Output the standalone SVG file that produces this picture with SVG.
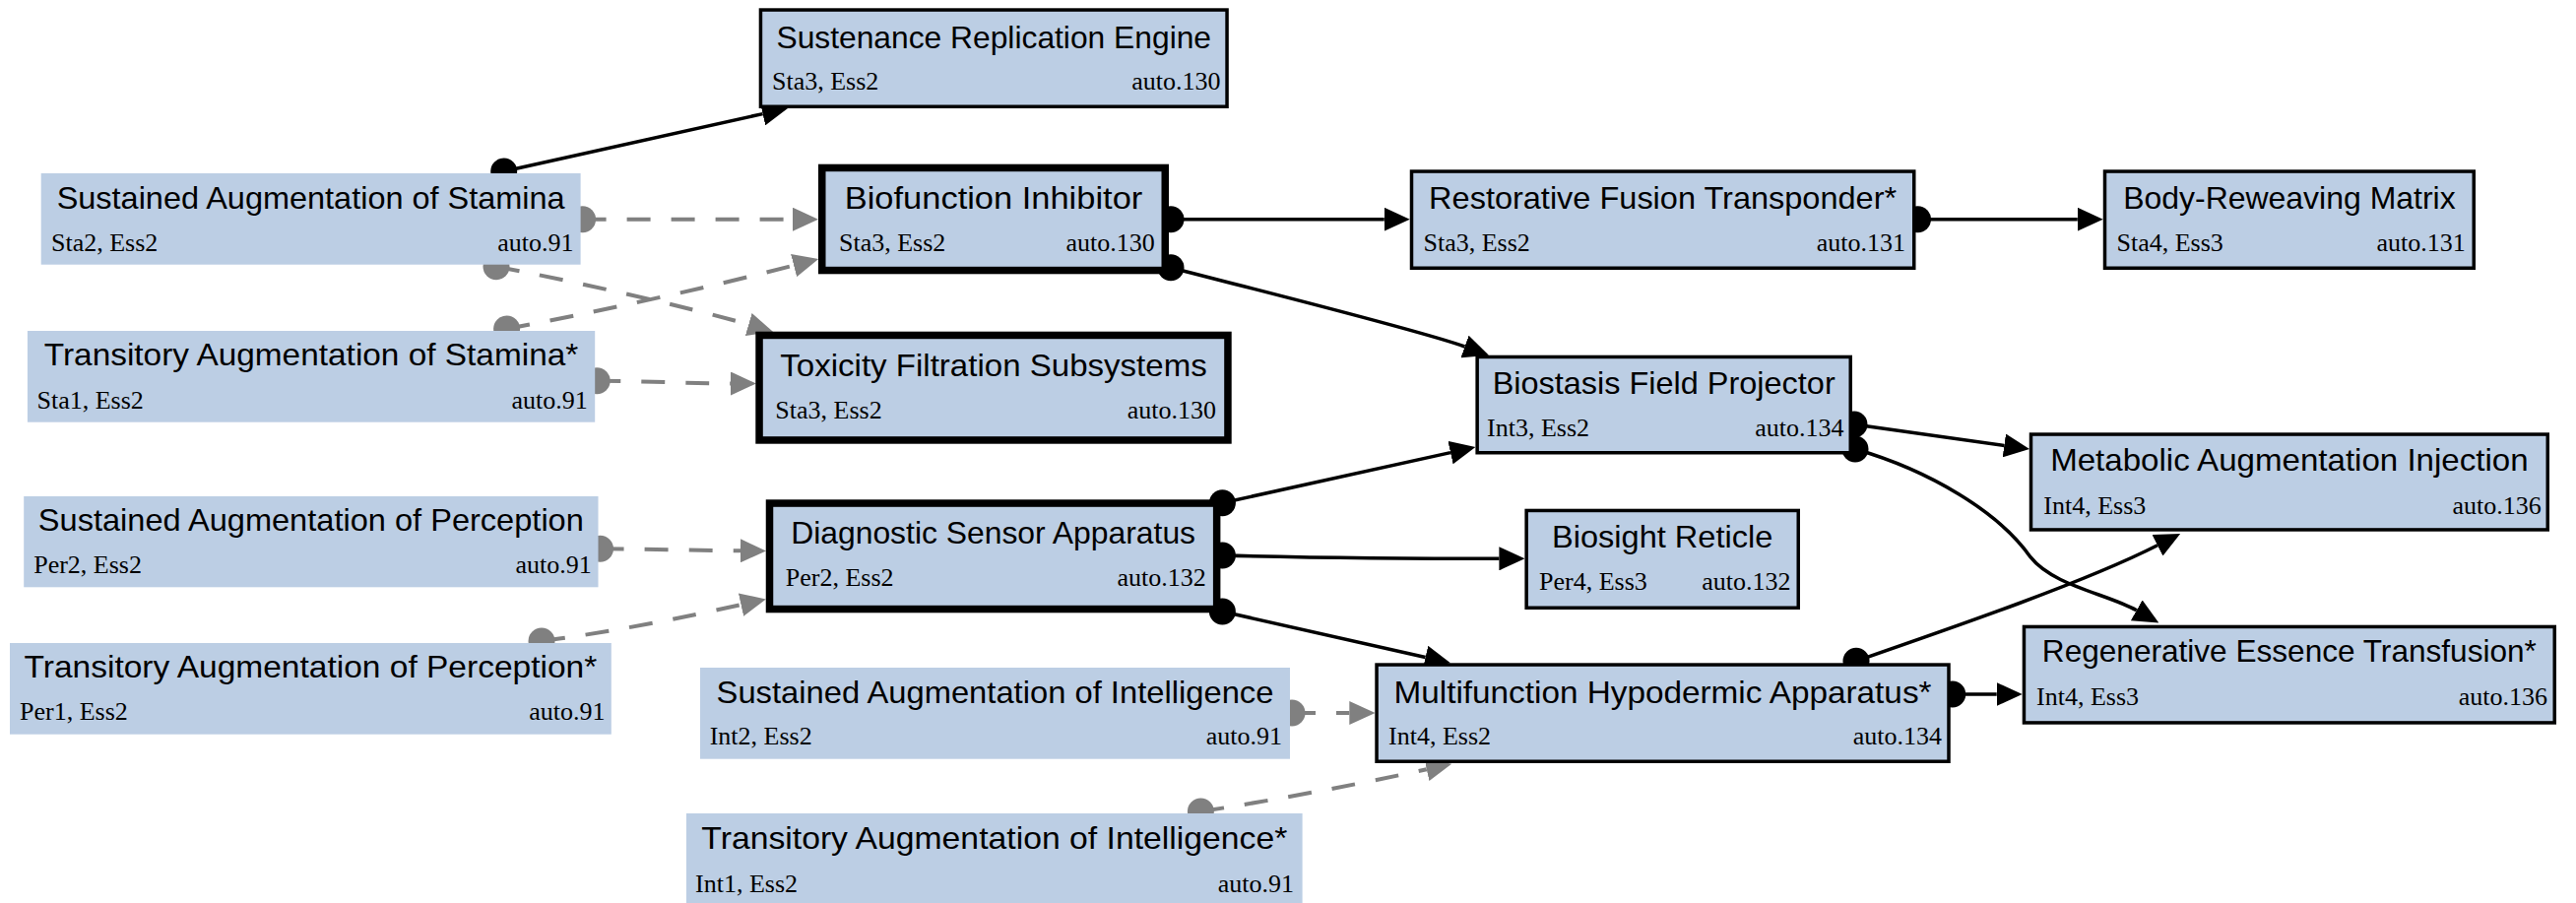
<svg xmlns="http://www.w3.org/2000/svg" width="2616" height="917" viewBox="0 0 2616 917">
  <style>
    .box { fill: #bccee4; }
    .thin { stroke: #000; stroke-width: 3.5; }
    .thick { stroke: #000; stroke-width: 7.5; }
    .t { font-family: "Liberation Sans", Arial, sans-serif; font-size: 32px; text-anchor: middle; fill: #000; }
    .s { font-family: "Liberation Serif", "Times New Roman", serif; font-size: 26px; fill: #000; }
    .r { text-anchor: end; }
    .e { fill: none; stroke: #000; stroke-width: 3.5; marker-start: url(#dotB); marker-end: url(#arrB); }
    .d { fill: none; stroke: #808080; stroke-width: 4; stroke-dasharray: 24 21; marker-start: url(#dotG); marker-end: url(#arrG); }
  </style>
  <defs>
    <marker id="arrB" markerUnits="userSpaceOnUse" viewBox="0 0 26 24" markerWidth="26" markerHeight="24" refX="0" refY="12" orient="auto">
      <path d="M0,0 L26,12 L0,24 z" fill="#000"/>
    </marker>
    <marker id="arrG" markerUnits="userSpaceOnUse" viewBox="0 0 26 24" markerWidth="26" markerHeight="24" refX="0" refY="12" orient="auto">
      <path d="M0,0 L26,12 L0,24 z" fill="#808080"/>
    </marker>
    <marker id="dotB" markerUnits="userSpaceOnUse" viewBox="-14 -14 28 28" markerWidth="28" markerHeight="28" refX="0" refY="0">
      <circle r="13.5" fill="#000"/>
    </marker>
    <marker id="dotG" markerUnits="userSpaceOnUse" viewBox="-14 -14 28 28" markerWidth="28" markerHeight="28" refX="0" refY="0">
      <circle r="13.5" fill="#808080"/>
    </marker>
  </defs>
  <rect width="2616" height="917" fill="#fff"/>

  <!-- connectors: drawn first so node boxes sit over the tail dots -->
  <g id="edges">
    <path class="e" d="M511.7,174 L774.6,115.6"/>
    <path class="e" d="M1189,222.7 L1405.75,222.7"/>
    <path class="e" d="M1189,271.7 C1290,298 1440,335 1487.5,352"/>
    <path class="e" d="M1947.5,222.7 L2109.75,222.7"/>
    <path class="e" d="M1883,431 L2035.3,452.4"/>
    <path class="e" d="M1884,456 C1960,478 2030,520 2062,565.7 C2085,595 2140,603 2169.7,619.8"/>
    <path class="e" d="M1241.4,510.7 L1473,459.6"/>
    <path class="e" d="M1241.4,564 C1320,566 1450,567.3 1522.4,567.3"/>
    <path class="e" d="M1241.4,621 L1447.6,667.5"/>
    <path class="e" d="M1885,671.3 C1990,635 2120,590 2191,553.8"/>
    <path class="e" d="M1982.75,705 L2027.7,705"/>

    <path class="d" d="M591.6,222.7 L805,222.7"/>
    <path class="d" d="M504,270.7 C580,285 700,312 760.2,329.6"/>
    <path class="d" d="M514.6,334 C600,318 720,292 806.1,269.5"/>
    <path class="d" d="M606.2,386.7 C660,387 700,389.5 742,389.5"/>
    <path class="d" d="M609.5,557.3 C660,557.5 710,559 752,559.3"/>
    <path class="d" d="M550,651 C620,642 690,628 752.5,614.1"/>
    <path class="d" d="M1312,724 L1370.3,724"/>
    <path class="d" d="M1219.4,824 C1300,812 1400,792 1448.8,781.3"/>
  </g>

  <!-- source nodes (no outline) -->
  <g id="sustained-stamina">
    <rect class="box" x="41.7" y="176" width="547.9" height="92.7"/>
    <text class="t" x="315.65" y="211.7" textLength="516" lengthAdjust="spacingAndGlyphs">Sustained Augmentation of Stamina</text>
    <text class="s" x="52" y="255">Sta2, Ess2</text>
    <text class="s r" x="582.5" y="255">auto.91</text>
  </g>
  <g id="transitory-stamina">
    <rect class="box" x="27.9" y="336" width="576.3" height="92.7"/>
    <text class="t" x="316.05" y="371" textLength="542.5" lengthAdjust="spacingAndGlyphs">Transitory Augmentation of Stamina*</text>
    <text class="s" x="37.5" y="415">Sta1, Ess2</text>
    <text class="s r" x="596.7" y="415">auto.91</text>
  </g>
  <g id="sustained-perception">
    <rect class="box" x="24.2" y="504" width="583.3" height="92.3"/>
    <text class="t" x="315.85" y="539" textLength="554" lengthAdjust="spacingAndGlyphs">Sustained Augmentation of Perception</text>
    <text class="s" x="34.2" y="581.7">Per2, Ess2</text>
    <text class="s r" x="600.8" y="581.7">auto.91</text>
  </g>
  <g id="transitory-perception">
    <rect class="box" x="10" y="653" width="610.8" height="92.7"/>
    <text class="t" x="315.4" y="688.3" textLength="581.7" lengthAdjust="spacingAndGlyphs">Transitory Augmentation of Perception*</text>
    <text class="s" x="20" y="730.7">Per1, Ess2</text>
    <text class="s r" x="614.6" y="730.7">auto.91</text>
  </g>
  <g id="sustained-intelligence">
    <rect class="box" x="711" y="678" width="599" height="92.7"/>
    <text class="t" x="1010.5" y="714" textLength="565.8" lengthAdjust="spacingAndGlyphs">Sustained Augmentation of Intelligence</text>
    <text class="s" x="720.7" y="755.7">Int2, Ess2</text>
    <text class="s r" x="1302" y="755.7">auto.91</text>
  </g>
  <g id="transitory-intelligence">
    <rect class="box" x="697" y="826" width="625.6" height="92"/>
    <text class="t" x="1009.8" y="862.3" textLength="595" lengthAdjust="spacingAndGlyphs">Transitory Augmentation of Intelligence*</text>
    <text class="s" x="706" y="905.7">Int1, Ess2</text>
    <text class="s r" x="1314" y="905.7">auto.91</text>
  </g>

  <!-- augmentations with heavy outline -->
  <g id="biofunction-inhibitor">
    <rect class="box thick" x="834.75" y="170.45" width="348.5" height="104.1"/>
    <text class="t" x="1009" y="211.7" textLength="302.5" lengthAdjust="spacingAndGlyphs">Biofunction Inhibitor</text>
    <text class="s" x="852" y="255">Sta3, Ess2</text>
    <text class="s r" x="1172.8" y="255">auto.130</text>
  </g>
  <g id="toxicity-filtration">
    <rect class="box thick" x="771.05" y="340.45" width="475.9" height="106.5"/>
    <text class="t" x="1009" y="381.7" textLength="433.4" lengthAdjust="spacingAndGlyphs">Toxicity Filtration Subsystems</text>
    <text class="s" x="787.3" y="425">Sta3, Ess2</text>
    <text class="s r" x="1235" y="425">auto.130</text>
  </g>
  <g id="diagnostic-sensor">
    <rect class="box thick" x="781.5" y="511.05" width="454.15" height="107.5"/>
    <text class="t" x="1008.6" y="552.3" textLength="410.9" lengthAdjust="spacingAndGlyphs">Diagnostic Sensor Apparatus</text>
    <text class="s" x="797.75" y="595">Per2, Ess2</text>
    <text class="s r" x="1224.8" y="595">auto.132</text>
  </g>

  <!-- augmentations with regular outline -->
  <g id="sustenance-replication">
    <rect class="box thin" x="772.45" y="10.05" width="473.6" height="98.2"/>
    <text class="t" x="1009.25" y="49.3" textLength="441.6" lengthAdjust="spacingAndGlyphs">Sustenance Replication Engine</text>
    <text class="s" x="784" y="90.7">Sta3, Ess2</text>
    <text class="s r" x="1239.4" y="90.7">auto.130</text>
  </g>
  <g id="restorative-fusion">
    <rect class="box thin" x="1433.5" y="174.05" width="510.25" height="98.2"/>
    <text class="t" x="1688.6" y="211.7" textLength="475" lengthAdjust="spacingAndGlyphs">Restorative Fusion Transponder*</text>
    <text class="s" x="1445.5" y="255">Sta3, Ess2</text>
    <text class="s r" x="1935" y="255">auto.131</text>
  </g>
  <g id="body-reweaving">
    <rect class="box thin" x="2137.5" y="174.05" width="374.75" height="98.2"/>
    <text class="t" x="2324.9" y="211.7" textLength="337.5" lengthAdjust="spacingAndGlyphs">Body-Reweaving Matrix</text>
    <text class="s" x="2149.5" y="255">Sta4, Ess3</text>
    <text class="s r" x="2503.7" y="255">auto.131</text>
  </g>
  <g id="biostasis-field">
    <rect class="box thin" x="1500.15" y="362.45" width="379.1" height="97.3"/>
    <text class="t" x="1689.7" y="400" textLength="348" lengthAdjust="spacingAndGlyphs">Biostasis Field Projector</text>
    <text class="s" x="1510" y="443.3">Int3, Ess2</text>
    <text class="s r" x="1872.6" y="443.3">auto.134</text>
  </g>
  <g id="metabolic-injection">
    <rect class="box thin" x="2062.5" y="441.05" width="524.75" height="96.9"/>
    <text class="t" x="2324.9" y="478.3" textLength="485.5" lengthAdjust="spacingAndGlyphs">Metabolic Augmentation Injection</text>
    <text class="s" x="2075.3" y="522.3">Int4, Ess3</text>
    <text class="s r" x="2580.75" y="522.3">auto.136</text>
  </g>
  <g id="biosight-reticle">
    <rect class="box thin" x="1550.15" y="518.45" width="276.1" height="98.8"/>
    <text class="t" x="1688.2" y="556.3" textLength="224.2" lengthAdjust="spacingAndGlyphs">Biosight Reticle</text>
    <text class="s" x="1563" y="599">Per4, Ess3</text>
    <text class="s r" x="1818.4" y="599">auto.132</text>
  </g>
  <g id="regenerative-essence">
    <rect class="box thin" x="2055.45" y="636.45" width="538.8" height="97.5"/>
    <text class="t" x="2324.85" y="672.3" textLength="502" lengthAdjust="spacingAndGlyphs">Regenerative Essence Transfusion*</text>
    <text class="s" x="2068" y="715.7">Int4, Ess3</text>
    <text class="s r" x="2587" y="715.7">auto.136</text>
  </g>
  <g id="multifunction-hypodermic">
    <rect class="box thin" x="1398.05" y="675.05" width="580.95" height="98.2"/>
    <text class="t" x="1688.5" y="714" textLength="546" lengthAdjust="spacingAndGlyphs">Multifunction Hypodermic Apparatus*</text>
    <text class="s" x="1410" y="755.7">Int4, Ess2</text>
    <text class="s r" x="1972" y="755.7">auto.134</text>
  </g>
</svg>
